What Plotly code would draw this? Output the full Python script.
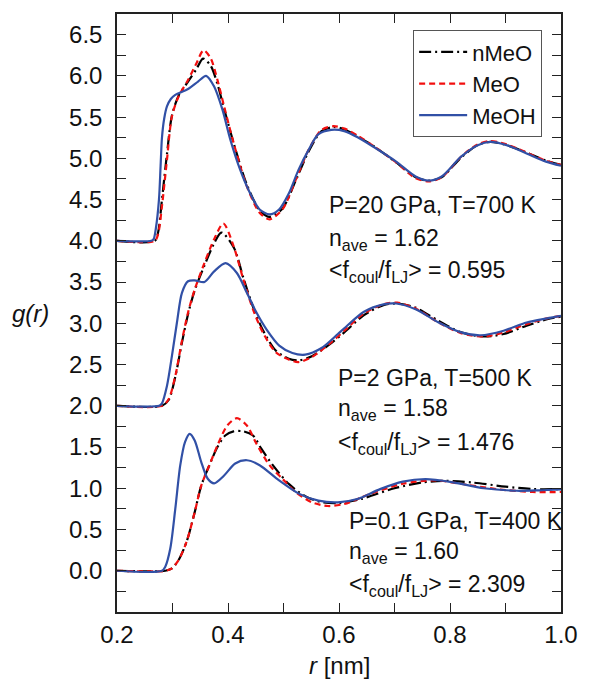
import plotly.graph_objects as go

# ---------------- data ----------------
# P = 20 GPa, T = 700 K (curves offset by +4)
r_meoh_20 = [0.20, 0.262, 0.266, 0.270, 0.2756, 0.2785, 0.281, 0.285, 0.290, 0.297, 0.305, 0.328, 0.346, 0.3605,
             0.375, 0.390, 0.4045, 0.422, 0.4396, 0.457, 0.4747, 0.492, 0.51, 0.527, 0.545, 0.5626, 0.586,
             0.6095, 0.635, 0.662, 0.703, 0.738, 0.762, 0.785, 0.820, 0.850, 0.873, 0.902, 0.938, 0.973, 1.0]
g_meoh_20 = [4.00, 4.00, 4.02, 4.15, 4.50, 4.90, 5.25, 5.48, 5.63, 5.72, 5.77, 5.84, 5.93, 6.00,
             5.87, 5.59, 5.22, 4.86, 4.58, 4.38, 4.32, 4.38, 4.58, 4.86, 5.10, 5.29, 5.345,
             5.33, 5.25, 5.14, 4.96, 4.78, 4.73, 4.78, 5.02, 5.16, 5.20, 5.16, 5.06, 4.96, 4.91]
r_meo_20 = [0.20, 0.268, 0.274, 0.281, 0.290, 0.299, 0.311, 0.328, 0.343, 0.356, 0.369, 0.381, 0.393, 0.4104,
            0.434, 0.457, 0.4747, 0.498, 0.522, 0.545, 0.5686, 0.590, 0.610, 0.635, 0.662, 0.703, 0.738,
            0.762, 0.785, 0.820, 0.850, 0.873, 0.902, 0.938, 0.973, 1.0]
g_meo_20 = [4.0, 4.0, 4.08, 4.42, 4.98, 5.51, 5.75, 5.95, 6.15, 6.31, 6.21, 5.95, 5.63, 5.18,
            4.66, 4.34, 4.26, 4.38, 4.74, 5.10, 5.345, 5.39, 5.36, 5.27, 5.15, 4.95, 4.76,
            4.72, 4.77, 5.02, 5.17, 5.21, 5.17, 5.07, 4.97, 4.92]
r_nmeo_20 = [0.20, 0.268, 0.274, 0.281, 0.290, 0.299, 0.311, 0.328, 0.343, 0.355, 0.369, 0.381, 0.393, 0.4104,
             0.434, 0.457, 0.4747, 0.498, 0.522, 0.545, 0.5686, 0.590, 0.610, 0.635, 0.662, 0.703, 0.738,
             0.762, 0.785, 0.820, 0.850, 0.873, 0.902, 0.938, 0.973, 1.0]
g_nmeo_20 = [4.0, 4.0, 4.10, 4.50, 5.05, 5.52, 5.76, 5.93, 6.08, 6.21, 6.12, 5.90, 5.60, 5.18,
             4.68, 4.37, 4.29, 4.39, 4.73, 5.08, 5.33, 5.38, 5.35, 5.26, 5.15, 4.95, 4.77,
             4.73, 4.77, 5.01, 5.16, 5.20, 5.16, 5.07, 4.97, 4.92]

# P = 2 GPa, T = 500 K (curves offset by +2)
r_meoh_2 = [0.20, 0.276, 0.281, 0.290, 0.299, 0.308, 0.317, 0.328, 0.340, 0.3575, 0.375, 0.3957, 0.416, 0.434,
            0.4513, 0.469, 0.4923, 0.516, 0.539, 0.5686, 0.598, 0.6095, 0.645, 0.680, 0.703, 0.738, 0.7795,
            0.820, 0.8555, 0.8965, 0.938, 0.975, 1.0]
g_meoh_2 = [2.0, 2.0, 2.03, 2.24, 2.605, 3.01, 3.37, 3.51, 3.52, 3.50, 3.63, 3.73, 3.61, 3.37,
            3.13, 2.93, 2.73, 2.64, 2.62, 2.70, 2.87, 2.94, 3.14, 3.23, 3.24, 3.17, 3.01,
            2.89, 2.855, 2.91, 3.01, 3.06, 3.09]
r_meo_2 = [0.20, 0.281, 0.293, 0.305, 0.3165, 0.328, 0.340, 0.3575, 0.375, 0.3916, 0.4104, 0.4277, 0.445,
           0.4627, 0.486, 0.5095, 0.527, 0.551, 0.586, 0.6095, 0.645, 0.680, 0.705, 0.738, 0.7795, 0.820,
           0.862, 0.8965, 0.938, 0.975, 1.0]
g_meo_2 = [2.0, 2.0, 2.08, 2.36, 2.77, 3.13, 3.41, 3.73, 4.02, 4.21, 3.93, 3.53, 3.17,
           2.89, 2.65, 2.56, 2.53, 2.59, 2.77, 2.91, 3.12, 3.23, 3.25, 3.18, 3.01, 2.88,
           2.84, 2.89, 2.99, 3.06, 3.09]
r_nmeo_2 = [0.20, 0.281, 0.293, 0.305, 0.3165, 0.328, 0.340, 0.3575, 0.375, 0.388, 0.4104, 0.4277, 0.445,
            0.4627, 0.486, 0.5095, 0.527, 0.551, 0.586, 0.6095, 0.645, 0.680, 0.705, 0.738, 0.7795, 0.820,
            0.862, 0.8965, 0.938, 0.975, 1.0]
g_nmeo_2 = [2.0, 2.0, 2.07, 2.35, 2.75, 3.11, 3.40, 3.70, 3.97, 4.10, 3.92, 3.55, 3.20,
            2.92, 2.67, 2.57, 2.55, 2.60, 2.76, 2.89, 3.10, 3.22, 3.24, 3.19, 3.03, 2.89,
            2.84, 2.87, 2.97, 3.05, 3.08]

# P = 0.1 GPa, T = 400 K (no offset)
r_meoh_01 = [0.20, 0.281, 0.287, 0.296, 0.305, 0.314, 0.3225, 0.331, 0.340, 0.3517, 0.3635, 0.375, 0.393,
             0.413, 0.434, 0.457, 0.492, 0.5275, 0.563, 0.598, 0.633, 0.674, 0.715, 0.756, 0.803, 0.861,
             0.920, 0.96, 1.0]
g_meoh_01 = [0.0, 0.0, 0.05, 0.27, 0.75, 1.28, 1.56, 1.66, 1.58, 1.32, 1.115, 1.06, 1.155,
             1.30, 1.34, 1.28, 1.095, 0.935, 0.85, 0.83, 0.87, 0.99, 1.08, 1.11, 1.075, 1.00,
             0.97, 0.975, 0.985]
r_meo_01 = [0.20, 0.287, 0.299, 0.311, 0.3253, 0.340, 0.3517, 0.3665, 0.381, 0.3986, 0.416, 0.434, 0.4513,
            0.4747, 0.498, 0.5216, 0.551, 0.580, 0.6095, 0.656, 0.715, 0.774, 0.832, 0.891, 0.949, 1.0]
g_meo_01 = [0.0, 0.0, 0.03, 0.13, 0.35, 0.71, 1.03, 1.28, 1.52, 1.76, 1.85, 1.76, 1.54,
            1.28, 1.115, 0.955, 0.83, 0.785, 0.81, 0.93, 1.055, 1.095, 1.04, 0.985, 0.955, 0.955]
r_nmeo_01 = [0.20, 0.287, 0.299, 0.311, 0.3253, 0.340, 0.3517, 0.3665, 0.381, 0.395, 0.410, 0.428, 0.445,
             0.460, 0.4807, 0.51, 0.54, 0.57, 0.60, 0.64, 0.70, 0.75, 0.79, 0.84, 0.90, 0.95, 1.0]
g_nmeo_01 = [0.0, 0.0, 0.03, 0.13, 0.35, 0.71, 1.03, 1.28, 1.50, 1.64, 1.69, 1.69, 1.64,
             1.48, 1.28, 1.05, 0.90, 0.83, 0.82, 0.87, 1.00, 1.07, 1.09, 1.07, 1.02, 0.99, 0.99]

series_names = ["nMeO", "MeO", "MeOH"]
y_tick_vals = [0.0, 0.5, 1.0, 1.5, 2.0, 2.5, 3.0, 3.5, 4.0, 4.5, 5.0, 5.5, 6.0, 6.5]
x_tick_vals = [0.2, 0.4, 0.6, 0.8, 1.0]

labels_20 = ["P=20 GPa, T=700 K", "n<sub>ave</sub> = 1.62", "<f<sub>coul</sub>/f<sub>LJ</sub>> = 0.595"]
labels_2 = ["P=2 GPa, T=500 K", "n<sub>ave</sub> = 1.58", "<f<sub>coul</sub>/f<sub>LJ</sub>> = 1.476"]
labels_01 = ["P=0.1 GPa, T=400 K", "n<sub>ave</sub> = 1.60", "<f<sub>coul</sub>/f<sub>LJ</sub>> = 2.309"]

# ---------------- styles ----------------
FONT = "Liberation Sans, Arial, sans-serif"
FS_TICK = 24
FS_ANN = 23
FS_LEG = 22
col_black = "#000000"
col_red = "#F20F0F"
col_blue = "#3150A6"
LW = 2.2
styles = {
    "nMeO": dict(color=col_black, width=LW, dash="12px,4px,2px,4px"),
    "MeO": dict(color=col_red, width=LW, dash="6px,4px"),
    "MeOH": dict(color=col_blue, width=LW, dash="solid"),
}

fig = go.Figure()
groups = [
    (r_nmeo_20, g_nmeo_20, r_meo_20, g_meo_20, r_meoh_20, g_meoh_20),
    (r_nmeo_2, g_nmeo_2, r_meo_2, g_meo_2, r_meoh_2, g_meoh_2),
    (r_nmeo_01, g_nmeo_01, r_meo_01, g_meo_01, r_meoh_01, g_meoh_01),
]
for gi, grp in enumerate(groups):
    for si, name in enumerate(series_names):
        xs, ys = grp[2 * si], grp[2 * si + 1]
        fig.add_trace(go.Scatter(
            x=xs, y=ys, mode="lines", name=name,
            line=dict(shape="spline", smoothing=0.8, **styles[name]),
            showlegend=(gi == 0), legendgroup=name,
        ))

# annotations
def add_block(lines, x, ys):
    for t, y in zip(lines, ys):
        fig.add_annotation(x=x, y=y, xref="x", yref="y", text=t, showarrow=False,
                           xanchor="left", yanchor="middle",
                           font=dict(family=FONT, size=FS_ANN, color="#111"))

add_block(labels_20, 0.578, [4.44, 4.02, 3.63])
add_block(labels_2, 0.594, [2.34, 1.95, 1.54])
add_block(labels_01, 0.615, [0.60, 0.22, -0.18])

fig.add_annotation(x=-0.195, y=0.5, xref="paper", yref="paper", text="<i>g(r)</i>",
                   showarrow=False, xanchor="center", yanchor="middle",
                   font=dict(family=FONT, size=FS_TICK, color="#111"))
fig.add_annotation(x=0.5, y=-0.089, xref="paper", yref="paper", text="<i>r</i> [nm]",
                   showarrow=False, xanchor="center", yanchor="middle",
                   font=dict(family=FONT, size=FS_TICK, color="#111"))

axis_common = dict(
    showline=True, linecolor="#222", linewidth=1.5, mirror="ticks",
    ticks="inside", ticklen=9, tickwidth=1.3, tickcolor="#222",
    showgrid=False, zeroline=False,
    tickfont=dict(family=FONT, size=FS_TICK, color="#111"),
)
fig.update_xaxes(range=[0.2, 1.0], tickvals=x_tick_vals, ticktext=[f"{v:.1f}" for v in x_tick_vals],
                 minor=dict(ticks="inside", ticklen=9, tickwidth=1.3, tickcolor="#222", dtick=0.1, tick0=0.2),
                 **axis_common)
fig.update_yaxes(range=[-0.5, 6.75], tickvals=y_tick_vals, ticktext=[f"{v:.1f}" for v in y_tick_vals],
                 minor=dict(ticks="inside", ticklen=9, tickwidth=1.3, tickcolor="#222", dtick=0.25, tick0=0),
                 ticklabelstandoff=8, **axis_common)

fig.update_layout(
    width=590, height=686,
    margin=dict(l=117, r=18, t=14, b=74),
    plot_bgcolor="white", paper_bgcolor="white",
    font=dict(family=FONT, size=FS_LEG, color="#111"),
    legend=dict(x=0.667, y=0.973, xanchor="left", yanchor="top",
                bordercolor="#555", borderwidth=1, bgcolor="white",
                font=dict(family=FONT, size=FS_LEG, color="#111"),
                tracegroupgap=0, itemwidth=48),
)

fig.write_html("out.html")
